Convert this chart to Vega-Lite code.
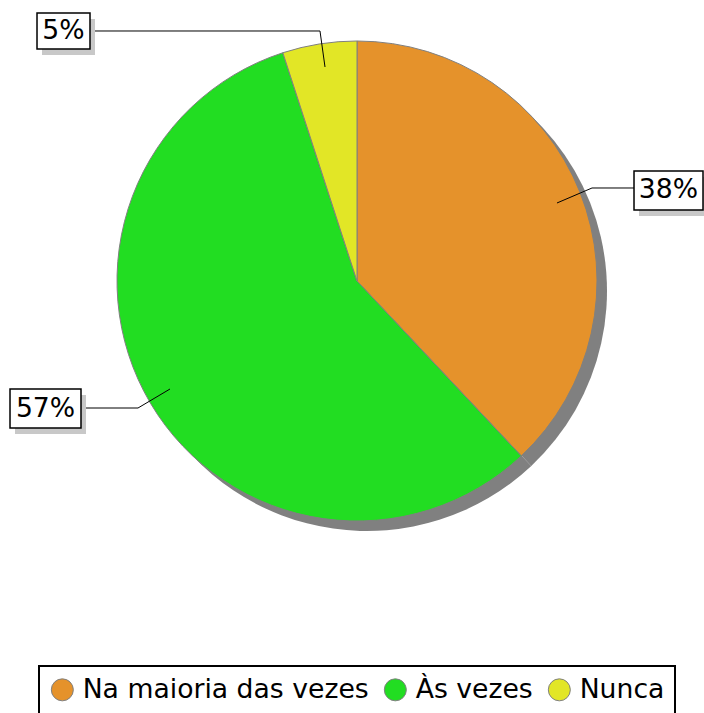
{
  "$schema": "https://vega.github.io/schema/vega-lite/v6.json",
  "width": 704,
  "height": 713,
  "autosize": "none",
  "padding": 0,
  "background": "white",
  "config": {
    "view": {"stroke": null},
    "legend": {"strokeColor": "black", "strokeWidth": 2}
  },
  "datasets": {
    "slices": [
      {"cat": "Na maioria das vezes", "v": 38, "k": 1},
      {"cat": "Às vezes", "v": 57, "k": 2},
      {"cat": "Nunca", "v": 5, "k": 3}
    ],
    "labels": [
      {"lab": "5%", "tx": -1.2229, "ty": 1.0417, "x0": -1.3333, "x1": -1.1125, "y0": 0.9667, "y1": 1.1167},
      {"lab": "38%", "tx": 1.2979, "ty": 0.3771, "x0": 1.1542, "x1": 1.4417, "y0": 0.2958, "y1": 0.4583},
      {"lab": "57%", "tx": -1.2979, "ty": -0.5313, "x0": -1.4458, "x1": -1.15, "y0": -0.6125, "y1": -0.45}
    ],
    "leaders": [
      {"lab": "5%", "p": 1, "x": -1.1125, "y": 1.0417},
      {"lab": "5%", "p": 2, "x": -0.1542, "y": 1.0417},
      {"lab": "5%", "p": 3, "x": -0.1333, "y": 0.8917},
      {"lab": "38%", "p": 1, "x": 1.1542, "y": 0.3875},
      {"lab": "38%", "p": 2, "x": 0.9792, "y": 0.3875},
      {"lab": "38%", "p": 3, "x": 0.8333, "y": 0.325},
      {"lab": "57%", "p": 1, "x": -1.15, "y": -0.5292},
      {"lab": "57%", "p": 2, "x": -0.9125, "y": -0.5292},
      {"lab": "57%", "p": 3, "x": -0.7792, "y": -0.45}
    ]
  },
  "layer": [
    {
      "data": {"name": "slices"},
      "mark": {"type": "arc", "outerRadius": 240, "xOffset": 10, "yOffset": 10, "fill": "#808080", "stroke": null},
      "encoding": {
        "theta": {"field": "v", "type": "quantitative", "stack": true},
        "order": {"field": "k", "type": "quantitative"},
        "x": {"datum": 0, "type": "quantitative", "scale": {"domain": [-1.4875, 1.44583], "nice": false, "zero": false}, "axis": null},
        "y": {"datum": 0, "type": "quantitative", "scale": {"domain": [-1.8, 1.17083], "nice": false, "zero": false}, "axis": null}
      }
    },
    {
      "data": {"name": "slices"},
      "mark": {"type": "arc", "outerRadius": 240, "stroke": "#808080", "strokeWidth": 1},
      "encoding": {
        "theta": {"field": "v", "type": "quantitative", "stack": true},
        "order": {"field": "k", "type": "quantitative"},
        "color": {
          "field": "cat",
          "type": "nominal",
          "sort": ["Na maioria das vezes", "Às vezes", "Nunca"],
          "scale": {"domain": ["Na maioria das vezes", "Às vezes", "Nunca"], "range": ["#E5922B", "#22DD22", "#E2E626"]},
          "legend": {
            "title": null,
            "orient": "none",
            "legendX": 39,
            "legendY": 666,
            "direction": "horizontal",
            "padding": 10,
            "labelFont": "DejaVu Sans",
            "labelFontSize": 26.67,
            "labelColor": "black",
            "labelLimit": 500,
            "labelOffset": 7,
            "columnPadding": 13,
            "symbolType": "circle",
            "symbolSize": 484,
            "symbolStrokeColor": "#808080",
            "symbolStrokeWidth": 1,
            "symbolOpacity": 1,
            "strokeColor": "black"
          }
        },
        "x": {"datum": 0, "type": "quantitative", "scale": {"domain": [-1.4875, 1.44583], "nice": false, "zero": false}, "axis": null},
        "y": {"datum": 0, "type": "quantitative", "scale": {"domain": [-1.8, 1.17083], "nice": false, "zero": false}, "axis": null}
      }
    },
    {
      "data": {"name": "leaders"},
      "mark": {"type": "line", "color": "black", "strokeWidth": 1},
      "encoding": {
        "x": {"field": "x", "type": "quantitative", "scale": {"domain": [-1.4875, 1.44583], "nice": false, "zero": false}, "axis": null},
        "y": {"field": "y", "type": "quantitative", "scale": {"domain": [-1.8, 1.17083], "nice": false, "zero": false}, "axis": null},
        "detail": {"field": "lab", "type": "nominal"},
        "order": {"field": "p", "type": "quantitative"}
      }
    },
    {
      "data": {"name": "labels"},
      "mark": {"type": "rect", "fill": "#C8C8C8", "xOffset": 5, "x2Offset": 5, "yOffset": 6, "y2Offset": 6},
      "encoding": {
        "x": {"field": "x0", "type": "quantitative", "scale": {"domain": [-1.4875, 1.44583], "nice": false, "zero": false}, "axis": null},
        "x2": {"field": "x1"},
        "y": {"field": "y0", "type": "quantitative", "scale": {"domain": [-1.8, 1.17083], "nice": false, "zero": false}, "axis": null},
        "y2": {"field": "y1"}
      }
    },
    {
      "data": {"name": "labels"},
      "mark": {"type": "rect", "fill": "white", "stroke": "black", "strokeWidth": 1.5},
      "encoding": {
        "x": {"field": "x0", "type": "quantitative", "scale": {"domain": [-1.4875, 1.44583], "nice": false, "zero": false}, "axis": null},
        "x2": {"field": "x1"},
        "y": {"field": "y0", "type": "quantitative", "scale": {"domain": [-1.8, 1.17083], "nice": false, "zero": false}, "axis": null},
        "y2": {"field": "y1"}
      }
    },
    {
      "data": {"name": "labels"},
      "mark": {"type": "text", "font": "DejaVu Sans", "fontSize": 26.67, "color": "black", "align": "center", "baseline": "middle"},
      "encoding": {
        "x": {"field": "tx", "type": "quantitative", "scale": {"domain": [-1.4875, 1.44583], "nice": false, "zero": false}, "axis": null},
        "y": {"field": "ty", "type": "quantitative", "scale": {"domain": [-1.8, 1.17083], "nice": false, "zero": false}, "axis": null},
        "text": {"field": "lab", "type": "nominal"}
      }
    }
  ]
}
